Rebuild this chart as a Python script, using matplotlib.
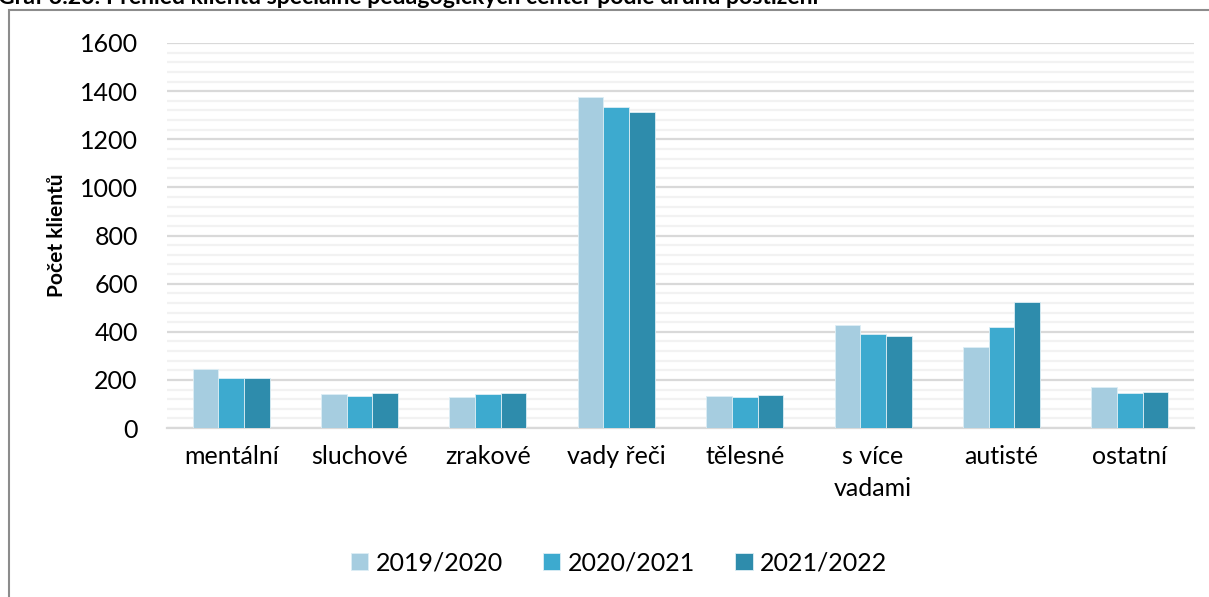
import numpy as np
import matplotlib.pyplot as plt
from matplotlib.patches import Rectangle
from matplotlib.ticker import MultipleLocator

categories = ['mentální', 'sluchové', 'zrakové', 'vady řeči', 'tělesné',
              's více\nvadami', 'autisté', 'ostatní']
years = ['2019/2020', '2020/2021', '2021/2022']
v_2019 = [244, 143, 129, 1376, 131, 426, 337, 170]
v_2020 = [208, 132, 141, 1332, 128, 391, 420, 144]
v_2021 = [208, 144, 145, 1313, 139, 384, 525, 148]
colors = ['#A6CDE0', '#3DAACF', '#2E8CAC']

plt.rcParams['font.family'] = ['Lato', 'DejaVu Sans']

fig = plt.figure(figsize=(12.09, 5.97), dpi=100)
ax = fig.add_axes([167 / 1209, 1 - 428 / 597, (1194 - 167) / 1209, (428 - 43) / 597])

x = np.arange(len(categories))
bar_width = 0.2
for i, vals in enumerate([v_2019, v_2020, v_2021]):
    ax.bar(x + (i - 1) * bar_width, vals, width=bar_width, color=colors[i],
           edgecolor='#DDEEF5', linewidth=0.6, label=years[i], zorder=3)

ax.set_xlim(-0.5, len(categories) - 0.5)
ax.set_ylim(0, 1600)
ax.yaxis.set_major_locator(MultipleLocator(200))
ax.yaxis.set_minor_locator(MultipleLocator(40))
ax.grid(axis='y', which='major', color='#D9D9D9', linewidth=1.6, zorder=0)
ax.grid(axis='y', which='minor', color='#F2F2F2', linewidth=1.6, zorder=0)
for s in ['top', 'right', 'left']:
    ax.spines[s].set_visible(False)
ax.spines['bottom'].set_color('#D9D9D9')
ax.spines['bottom'].set_linewidth(1.6)
ax.tick_params(axis='both', which='both', length=0, labelsize=18, colors='black')
ax.tick_params(axis='y', pad=21)
ax.tick_params(axis='x', pad=12)
ax.set_xticks(x)
ax.set_xticklabels(categories, linespacing=1.5, va='top')
ax.set_ylabel('Počet klientů', fontsize=15, fontweight='bold')
ax.yaxis.set_label_coords(-0.097, 0.5)

ax.legend(loc='center', bbox_to_anchor=(0.44, -0.35), ncol=3, frameon=False,
          fontsize=18, handlelength=0.7, handleheight=0.7, handletextpad=0.3,
          columnspacing=1.6)

# outer frame of the chart object
fig.patches.append(Rectangle((9 / 1209, -0.1), 1.2, 1 - 10 / 597 + 0.1,
                             transform=fig.transFigure, fill=False,
                             edgecolor='#8C8C8C', linewidth=1.5))

fig.text(-0.002, 1 - 4 / 597, 'Graf 3.26: Přehled klientů speciálně pedagogických center podle druhu postižení',
         fontsize=16.6, fontweight='bold', ha='left', va='baseline')

fig.savefig('out.png', dpi=100)
